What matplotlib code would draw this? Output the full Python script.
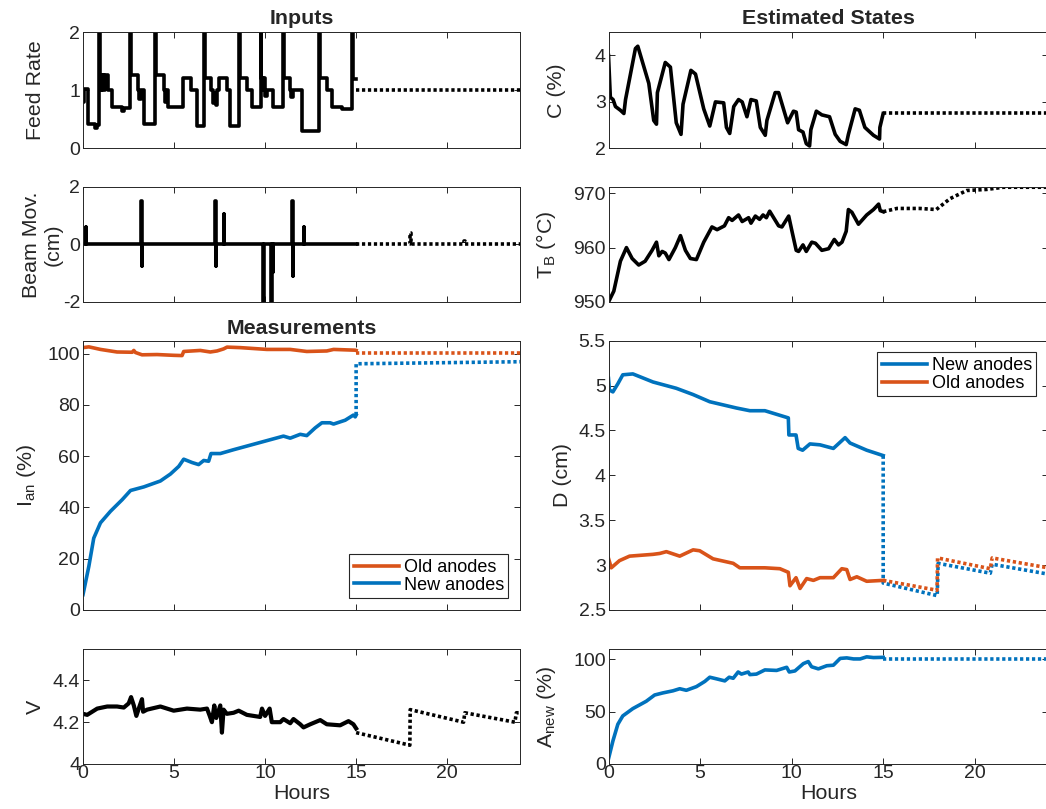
import numpy as np
import matplotlib
matplotlib.use('Agg')
import matplotlib.pyplot as plt
from matplotlib.lines import Line2D

plt.rcParams['font.family'] = ['Liberation Sans', 'DejaVu Sans']
plt.rcParams['axes.unicode_minus'] = False
plt.rcParams['mathtext.fontset'] = 'custom'
plt.rcParams['mathtext.rm'] = 'Liberation Sans'

BLUE = '#0072BD'
ORANGE = '#D95319'
DARK = '#262626'

# ---- Inputs: feed rate (step signal), hours / value
feed_t = [0.0, 0.05, 0.30, 0.65, 0.75, 0.88, 0.92, 1.02, 1.07, 1.17, 1.22, 1.36, 1.6, 2.12, 2.27,
          2.6, 2.65, 3.0, 3.1, 3.18, 3.37, 3.97, 4.02, 4.47, 4.52, 4.58, 4.67, 5.5, 5.92, 6.28,
          6.67, 6.72, 7.03, 7.12, 7.2, 7.28, 7.38, 7.48, 7.9, 8.08, 8.56, 8.61, 9.0, 9.28, 9.75,
          9.8, 9.88, 9.93, 10.0, 10.1, 10.45, 10.97, 11.02, 11.35, 11.45, 11.52, 12.0, 12.95,
          13.0, 13.42, 13.69, 14.23, 14.77, 14.82, 15.0]
feed_v = [0.80, 1.03, 0.42, 0.35, 0.40, 2.5, 1.27, 1.0, 1.27, 1.0, 1.27, 1.0, 0.72, 0.65, 0.70,
          2.5, 1.27, 1.0, 0.85, 1.0, 0.42, 2.5, 1.27, 1.0, 0.8, 1.0, 0.72, 1.22, 1.0, 0.38,
          2.5, 1.22, 1.0, 0.78, 0.95, 0.75, 1.0, 1.22, 1.0, 0.38, 2.5, 1.22, 1.0, 0.71, 2.5,
          1.22, 1.0, 1.22, 0.9, 1.0, 0.71, 2.5, 1.22, 1.0, 0.88, 1.0, 0.29, 2.5,
          1.22, 1.0, 0.71, 0.68, 2.5, 1.2, 1.2]
feed_fc_t = [15.0, 24.0]
feed_fc_v = [1.0, 1.0]

# beam movement: spikes (time, max, min, width)
beam_spike_t = [0.15, 3.2, 7.25, 7.73, 9.82, 10.27, 10.42, 11.5, 12.12]
beam_spike_hi = [0.6, 1.5, 1.5, 1.05, 0.0, 0.0, 0.0, 1.5, 0.6]
beam_spike_lo = [0.0, -0.75, -0.75, 0.0, -2.5, -2.5, -0.95, -1.1, 0.0]
beam_spike_w = [0.03, 0.06, 0.06, 0.03, 0.1, 0.1, 0.03, 0.04, 0.03]
beam_fc_spike_t = [17.98, 20.95]
beam_fc_spike_hi = [0.38, 0.1]

# ---- Estimated states
c_t = [0.0, 0.1, 0.25, 0.38, 0.65, 0.84, 0.93, 1.47, 1.6, 2.2, 2.47, 2.62, 2.67, 3.1, 3.38,
       3.7, 3.96, 4.07, 4.5, 4.75, 5.2, 5.53, 5.84, 6.29, 6.44, 6.62, 6.84, 7.1, 7.3, 7.56,
       7.78, 8.07, 8.29, 8.56, 8.65, 9.1, 9.29, 9.78, 10.1, 10.25, 10.38, 10.62, 10.8, 10.98,
       11.05, 11.35, 11.65, 12.07, 12.38, 12.65, 12.98, 13.1, 13.47, 13.7, 14.0, 14.47, 14.8,
       14.82, 15.0]
c_v = [4.0, 3.1, 3.05, 2.9, 2.82, 2.75, 3.05, 4.15, 4.2, 3.4, 2.6, 2.52, 3.2, 3.85, 3.75,
       2.55, 2.3, 2.95, 3.68, 3.6, 2.85, 2.48, 3.0, 2.98, 2.45, 2.32, 2.9, 3.05, 3.0, 2.68,
       3.05, 3.02, 2.45, 2.28, 2.6, 3.2, 3.2, 2.55, 2.8, 2.78, 2.4, 2.35, 2.1, 2.05,
       2.4, 2.8, 2.72, 2.68, 2.3, 2.15, 2.08, 2.3, 2.85, 2.82, 2.45, 2.28, 2.2,
       2.45, 2.75]
c_fc_t = [15.0, 24.0]
c_fc_v = [2.76, 2.76]

tb_t = [0.0, 0.29, 0.65, 0.98, 1.29, 1.65, 2.0, 2.38, 2.62, 2.75, 2.93, 3.1, 3.3, 3.65, 3.93,
        4.2, 4.47, 4.8, 5.2, 5.65, 5.93, 6.33, 6.56, 6.75, 7.1, 7.3, 7.65, 7.78, 8.02, 8.25,
        8.44, 8.62, 8.8, 9.29, 9.47, 9.84, 10.02, 10.25, 10.38, 10.62, 10.8, 11.1, 11.3,
        11.65, 12.02, 12.33, 12.56, 12.75, 12.98, 13.1, 13.29, 13.65, 14.1, 14.47, 14.75,
        14.84, 15.0]
tb_v = [950.0, 952.0, 957.5, 960.0, 958.0, 956.8, 957.5, 959.5, 961.0, 958.5, 959.3, 959.0,
        957.8, 960.0, 962.2, 959.5, 958.0, 957.8, 961.0, 963.8, 963.3, 964.0, 965.5, 965.0,
        966.0, 964.8, 965.5, 964.5, 965.8, 965.2, 966.0, 965.5, 966.7, 964.0, 963.8, 965.8,
        963.0, 959.5, 959.3, 960.5, 959.3, 961.0, 960.8, 959.5, 959.8, 961.5, 960.5, 961.0,
        963.0, 967.0, 966.5, 964.3, 966.0, 967.0, 968.0, 966.8, 966.6]
tb_fc_t = [15.0, 15.75, 17.0, 17.9, 18.65, 19.56, 20.65, 21.56, 24.0]
tb_fc_v = [966.6, 967.2, 967.2, 967.0, 969.0, 970.5, 970.7, 971.1, 971.1]

# ---- Measurements: anode current, % (old / new)
ian_old_t = [0.0, 0.32, 0.96, 1.87, 2.7, 2.79, 2.88, 3.24, 4.07, 4.98, 5.44, 5.53, 6.44,
             6.99, 7.36, 7.72, 7.91, 8.64, 10.1, 11.38, 12.29, 13.39, 13.76, 14.95, 15.0]
ian_old_v = [102.3, 102.6, 101.6, 100.6, 100.5, 101.2, 100.4, 99.5, 99.6, 99.3, 99.2, 100.8,
             101.2, 100.6, 101.0, 101.8, 102.5, 102.3, 101.6, 101.6, 100.8, 101.0, 101.6,
             101.3, 101.2]
ian_old_fc_t = [15.0, 24.0]
ian_old_fc_v = [100.1, 100.1]

ian_new_t = [0.0, 0.32, 0.59, 0.96, 1.51, 2.15, 2.61, 3.34, 4.25, 4.8, 5.26, 5.53, 5.99, 6.35,
             6.63, 6.9, 7.03, 7.54, 8.27, 11.01, 11.38, 11.93, 12.29, 12.75, 13.12, 13.57,
             13.76, 14.4, 14.85, 14.95, 15.0]
ian_new_v = [6.0, 17.0, 28.0, 34.0, 38.5, 43.0, 46.6, 48.0, 50.3, 53.0, 56.0, 58.8, 57.5, 56.7,
             58.3, 58.0, 61.0, 61.0, 62.5, 67.8, 67.0, 68.5, 68.0, 71.0, 73.0, 73.0,
             72.5, 74.0, 76.0, 75.3, 76.0]
ian_new_fc_t = [15.0, 15.0, 24.0]
ian_new_fc_v = [76.0, 96.0, 96.8]

# anode-cathode distance, cm
d_new_t = [0.0, 0.05, 0.24, 0.51, 0.78, 1.33, 2.43, 3.7, 4.62, 5.53, 6.99, 7.72, 8.54, 9.18,
           9.82, 9.85, 10.24, 10.36, 10.6, 11.0, 11.55, 12.28, 12.92, 13.19, 14.1, 15.0]
d_new_v = [5.08, 4.95, 4.93, 5.02, 5.12, 5.13, 5.04, 4.97, 4.9, 4.82, 4.75, 4.72, 4.72, 4.68,
           4.64, 4.45, 4.45, 4.3, 4.28, 4.35, 4.34, 4.3, 4.42, 4.36, 4.28, 4.22]
d_new_fc_t = [15.0, 15.0, 17.95, 18.0, 20.85, 20.95, 24.0]
d_new_fc_v = [4.22, 2.8, 2.66, 3.02, 2.91, 3.01, 2.9]

d_old_t = [0.0, 0.15, 0.6, 1.15, 2.43, 2.8, 3.16, 3.89, 4.62, 4.98, 5.71, 6.81, 7.17, 7.9,
           8.54, 9.36, 9.82, 9.91, 10.24, 10.46, 10.82, 11.19, 11.55, 12.28, 12.74, 13.01,
           13.19, 13.56, 14.1, 15.0]
d_old_v = [3.075, 2.97, 3.05, 3.1, 3.12, 3.13, 3.15, 3.1, 3.17, 3.16, 3.07, 3.02, 2.97, 2.97,
           2.97, 2.96, 2.92, 2.77, 2.86, 2.74, 2.85, 2.83, 2.86, 2.86, 2.96, 2.95,
           2.84, 2.87, 2.82, 2.83]
d_old_fc_t = [15.0, 17.94, 17.97, 20.85, 20.95, 24.0]
d_old_fc_v = [2.83, 2.72, 3.08, 2.96, 3.08, 2.97]

# cell voltage
v_t = [0.0, 0.23, 0.78, 1.33, 1.87, 2.24, 2.51, 2.64, 2.79, 2.93, 3.12, 3.24, 3.3, 3.52, 4.25,
       4.98, 5.71, 6.44, 6.81, 6.96, 7.08, 7.21, 7.32, 7.54, 7.63, 7.72, 7.9, 8.27, 8.55, 9.0,
       9.73, 9.83, 10.0, 10.25, 10.37, 10.83, 11.01, 11.38, 11.56, 11.93, 12.11, 12.48, 13.03,
       13.39, 14.12, 14.58, 14.85, 15.0]
v_v = [4.24, 4.235, 4.265, 4.275, 4.275, 4.27, 4.29, 4.32, 4.28, 4.23, 4.28, 4.31, 4.25, 4.26,
       4.275, 4.255, 4.265, 4.26, 4.265, 4.23, 4.2, 4.28, 4.22, 4.28, 4.15, 4.26, 4.24, 4.245,
       4.255, 4.235, 4.225, 4.265, 4.23, 4.265, 4.2, 4.2, 4.215, 4.195, 4.215, 4.19, 4.175,
       4.19, 4.21, 4.19, 4.185, 4.205, 4.19, 4.17]
v_fc_t = [15.0, 17.95, 17.97, 20.9, 20.97, 23.72, 23.8, 24.0]
v_fc_v = [4.15, 4.09, 4.26, 4.2, 4.245, 4.2, 4.245, 4.245]

# fraction of new anodes, %
anew_t = [0.0, 0.24, 0.51, 0.78, 1.33, 2.06, 2.52, 2.97, 3.52, 3.89, 4.25, 4.8, 5.26, 5.53,
          5.89, 6.35, 6.59, 6.81, 7.08, 7.26, 7.63, 7.72, 8.08, 8.54, 9.18, 9.73, 9.87, 10.18,
          10.64, 10.91, 11.09, 11.46, 11.92, 12.28, 12.65, 13.01, 13.38, 13.74, 14.1, 14.47,
          14.93, 15.0]
anew_v = [5, 22, 38, 46, 53, 60, 66, 68, 70, 72, 70.5, 74, 79, 83, 81.5, 79.5, 83, 82, 88, 86,
          88, 85.5, 86, 90, 89.5, 92.5, 88, 89, 96, 98, 93, 91, 94, 94.5, 101, 101.5, 100.5,
          100.5, 102.5, 101.8, 102, 102]
anew_fc_t = [15.0, 24.0]
anew_fc_v = [100.0, 100.0]


def spikes(times, hi, lo, width):
    xs, ys = [0.0], [0.0]
    for t, h, l, w in zip(times, hi, lo, width):
        xs += [t, t, t + w / 2, t + w / 2, t + w, t + w]
        ys += [0.0, h, h, l, l, 0.0]
    return xs, ys


LW = 2.6
DOT = (0, (0.9, 0.75))

W, H = 1046, 809
fig = plt.figure(figsize=(W / 100, H / 100), dpi=100)

colL = (83 / W, 437 / W)
colR = (608.5 / W, 439.5 / W)
rows = [(32.3, 148.3), (186.7, 302.0), (340.7, 610.0), (649.0, 764.0)]


def make_ax(col, row):
    top, bot = rows[row]
    ax = fig.add_axes([col[0], 1 - bot / H, col[1], (bot - top) / H])
    ax.set_xlim(0, 24)
    ax.set_xticks([0, 5, 10, 15, 20])
    ax.tick_params(direction='in', top=True, right=True, length=4, width=0.7,
                   labelsize=14, colors=DARK, pad=2)
    ax.tick_params(axis='x', pad=1)
    for s in ax.spines.values():
        s.set_linewidth(0.7)
        s.set_color(DARK)
    if row < 3:
        ax.set_xticklabels([])
    else:
        ax.set_xlabel('Hours', fontsize=15.4, color=DARK, labelpad=1)
    return ax


def ylab(ax, text, x):
    ax.set_ylabel(text, fontsize=15.4, color=DARK)
    ax.yaxis.set_label_coords(x, 0.5)


# Feed rate
ax = make_ax(colL, 0)
ax.step(feed_t, feed_v, where='post', color='k', lw=LW)
ax.plot(feed_fc_t, feed_fc_v, color='k', lw=LW, ls=DOT)
ax.set_ylim(0, 2)
ax.set_yticks([0, 1, 2])
ylab(ax, 'Feed Rate', -0.088)
ax.set_title('Inputs', fontsize=15.4, fontweight='bold', color=DARK, pad=6)

# Beam movement
ax = make_ax(colL, 1)
bx, by = spikes(beam_spike_t, beam_spike_hi, beam_spike_lo, beam_spike_w)
bx.append(15.0)
by.append(0.0)
ax.plot(bx, by, color='k', lw=LW)
fx, fy = spikes(beam_fc_spike_t, beam_fc_spike_hi, [0.0] * 2, [0.06] * 2)
fx = [15.0] + fx[1:] + [24.0]
fy = [0.0] + fy[1:] + [0.0]
ax.plot(fx, fy, color='k', lw=LW, ls=DOT)
ax.set_ylim(-2, 2)
ax.set_yticks([-2, 0, 2])
ylab(ax, 'Beam Mov.\n(cm)', -0.046)

# Anode current
ax = make_ax(colL, 2)
ax.plot(ian_new_t, ian_new_v, color=BLUE, lw=LW)
ax.plot(ian_new_fc_t, ian_new_fc_v, color=BLUE, lw=LW, ls=DOT)
ax.plot(ian_old_t, ian_old_v, color=ORANGE, lw=LW)
ax.plot(ian_old_fc_t, ian_old_fc_v, color=ORANGE, lw=LW, ls=DOT)
ax.set_ylim(0, 105)
ax.set_yticks([0, 20, 40, 60, 80, 100])
ylab(ax, r'I$_\mathregular{an}$ (%)', -0.104)
ax.set_title('Measurements', fontsize=15.4, fontweight='bold', color=DARK, pad=5)
handles = [Line2D([], [], color=ORANGE, lw=LW), Line2D([], [], color=BLUE, lw=LW)]
leg = ax.legend(handles, ['Old anodes', 'New anodes'], loc='lower right', fontsize=13,
                fancybox=False, framealpha=1, edgecolor=DARK, borderaxespad=0.65,
                handlelength=2.5, handletextpad=0.25, labelspacing=0.05, borderpad=0.25)
leg.get_frame().set_linewidth(0.8)

# Voltage
ax = make_ax(colL, 3)
ax.plot(v_t, v_v, color='k', lw=3.0)
ax.plot(v_fc_t, v_fc_v, color='k', lw=LW, ls=DOT)
ax.set_ylim(4, 4.55)
ax.set_yticks([4, 4.2, 4.4])
ax.set_yticklabels(['4', '4.2', '4.4'])
ylab(ax, 'V', -0.088)

# Carbon content
ax = make_ax(colR, 0)
ax.plot(c_t, c_v, color='k', lw=LW)
ax.plot(c_fc_t, c_fc_v, color='k', lw=LW, ls=DOT)
ax.set_ylim(2, 4.5)
ax.set_yticks([2, 3, 4])
ylab(ax, 'C (%)', -0.096)
ax.set_title('Estimated States', fontsize=15.4, fontweight='bold', color=DARK, pad=6)

# Bath temperature
ax = make_ax(colR, 1)
ax.plot(tb_t, tb_v, color='k', lw=LW)
ax.plot(tb_fc_t, tb_fc_v, color='k', lw=LW, ls=DOT)
ax.set_ylim(950, 971.2)
ax.set_yticks([950, 960, 970])
ylab(ax, 'T$_\\mathregular{B}$ (\u00b0C)', -0.115)

# ACD
ax = make_ax(colR, 2)
ax.plot(d_new_t, d_new_v, color=BLUE, lw=LW)
ax.plot(d_new_fc_t, d_new_fc_v, color=BLUE, lw=LW, ls=DOT)
ax.plot(d_old_t, d_old_v, color=ORANGE, lw=LW)
ax.plot(d_old_fc_t, d_old_fc_v, color=ORANGE, lw=LW, ls=DOT)
ax.set_ylim(2.5, 5.5)
ax.set_yticks([2.5, 3, 3.5, 4, 4.5, 5, 5.5])
ax.set_yticklabels(['2.5', '3', '3.5', '4', '4.5', '5', '5.5'])
ylab(ax, 'D (cm)', -0.084)
handles = [Line2D([], [], color=BLUE, lw=LW), Line2D([], [], color=ORANGE, lw=LW)]
leg = ax.legend(handles, ['New anodes', 'Old anodes'], loc='upper right', fontsize=13,
                fancybox=False, framealpha=1, edgecolor=DARK, borderaxespad=0.65,
                handlelength=2.5, handletextpad=0.25, labelspacing=0.05, borderpad=0.25)
leg.get_frame().set_linewidth(0.8)

# New anode fraction
ax = make_ax(colR, 3)
ax.plot(anew_t, anew_v, color=BLUE, lw=LW)
ax.plot(anew_fc_t, anew_fc_v, color=BLUE, lw=LW, ls=DOT)
ax.set_ylim(0, 110)
ax.set_yticks([0, 50, 100])
ylab(ax, r'A$_\mathregular{new}$ (%)', -0.115)

fig.savefig('out.png', dpi=100)
